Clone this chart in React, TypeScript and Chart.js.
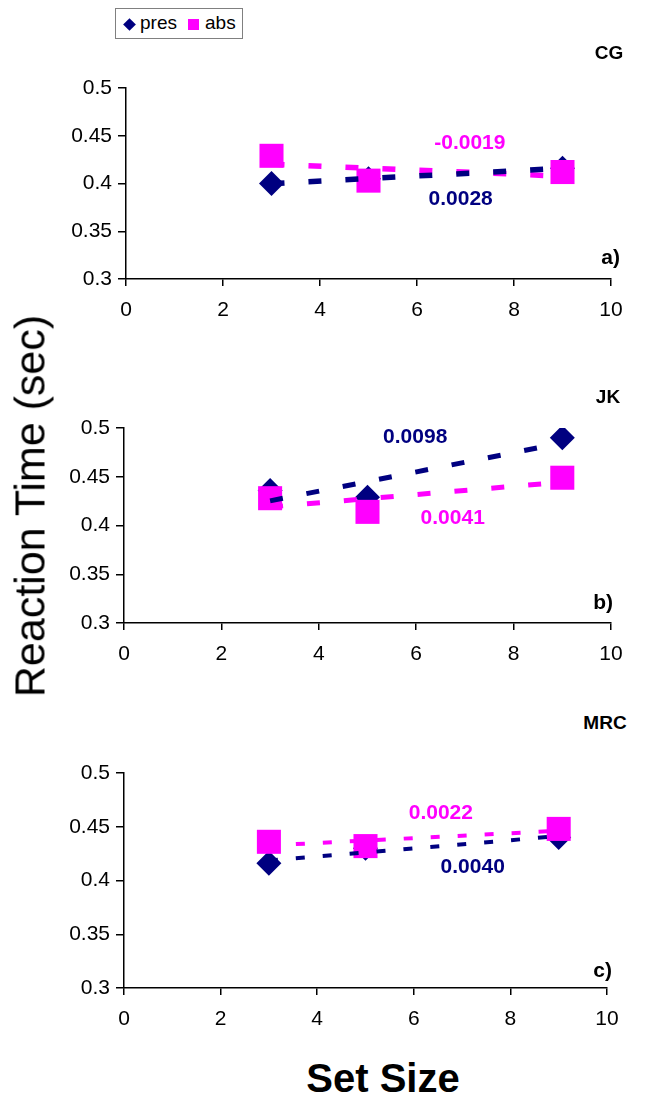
import React, { useEffect, useRef } from 'react';
import { Chart, registerables } from 'chart.js';

Chart.register(...registerables);

// ---------- data ----------
const setSizes = [3, 5, 9];
const xTickValues = [0, 2, 4, 6, 8, 10];
const yTickValues = [0.3, 0.35, 0.4, 0.45, 0.5];
const seriesNames = ['pres', 'abs'];

const cgPres = [0.4, 0.405, 0.416];
const cgAbs = [0.429, 0.403, 0.412];
const jkPres = [0.436, 0.429, 0.49];
const jkAbs = [0.428, 0.414, 0.449];
const mrcPres = [0.416, 0.43, 0.44];
const mrcAbs = [0.436, 0.432, 0.448];

const panelNames = ['CG', 'JK', 'MRC'];
const panelLetters = ['a)', 'b)', 'c)'];
const presSlopeLabels = ['0.0028', '0.0098', '0.0040'];
const absSlopeLabels = ['-0.0019', '0.0041', '0.0022'];

const NAVY = '#000080';
const MAGENTA = '#FF00FF';
const FONT = '"Liberation Sans", Arial, Helvetica, sans-serif';

function fitLine(xs: number[], ys: number[]) {
  const n = xs.length;
  const mx = xs.reduce((a, b) => a + b, 0) / n;
  const my = ys.reduce((a, b) => a + b, 0) / n;
  let sxy = 0;
  let sxx = 0;
  for (let i = 0; i < n; i++) {
    sxy += (xs[i] - mx) * (ys[i] - my);
    sxx += (xs[i] - mx) * (xs[i] - mx);
  }
  const b = sxy / sxx;
  const a = my - b * mx;
  const x0 = Math.min(...xs);
  const x1 = Math.max(...xs);
  return [
    { x: x0, y: a + b * x0 },
    { x: x1, y: a + b * x1 },
  ];
}

const slopeLabelPlugin = {
  id: 'slopeLabels',
  afterDatasetsDraw(chart: any, _args: any, opts: any) {
    const { ctx } = chart;
    const xs = chart.scales.x;
    const ys = chart.scales.y;
    (opts.items || []).forEach((it: any) => {
      ctx.save();
      ctx.font = `bold ${opts.size || 20}px ${FONT}`;
      ctx.fillStyle = it.color;
      ctx.textAlign = 'center';
      ctx.textBaseline = 'middle';
      ctx.fillText(it.text, xs.getPixelForValue(it.x), ys.getPixelForValue(it.y));
      ctx.restore();
    });
  },
};

type PanelProps = {
  idx: number;
  pres: number[];
  abs: number[];
  top: number;
  height: number;
  area: { left: number; right: number; top: number; bottom: number };
  lineWidth: number;
  dash: number[];
  presLabelPos: { x: number; y: number };
  absLabelPos: { x: number; y: number };
};

function Panel(p: PanelProps) {
  const ref = useRef<HTMLCanvasElement>(null);
  useEffect(() => {
    if (!ref.current) return;
    const tickFont = { family: FONT, size: 21 };
    const chart = new Chart(ref.current, {
      type: 'scatter',
      data: {
        datasets: [
          {
            type: 'line',
            label: 'pres trend',
            data: fitLine(setSizes, p.pres),
            borderColor: NAVY,
            borderWidth: p.lineWidth,
            borderDash: p.dash,
            pointRadius: 0,
            fill: false,
            order: 0,
          } as any,
          {
            type: 'line',
            label: 'abs trend',
            data: fitLine(setSizes, p.abs),
            borderColor: MAGENTA,
            borderWidth: p.lineWidth,
            borderDash: p.dash,
            pointRadius: 0,
            fill: false,
            order: 0,
          } as any,
          {
            label: seriesNames[1],
            data: setSizes.map((x, i) => ({ x, y: p.abs[i] })),
            pointStyle: 'rect',
            pointRadius: 17,
            backgroundColor: MAGENTA,
            borderColor: MAGENTA,
            borderWidth: 0,
            order: 1,
          },
          {
            label: seriesNames[0],
            data: setSizes.map((x, i) => ({ x, y: p.pres[i] })),
            pointStyle: 'rectRot',
            pointRadius: 12.5,
            backgroundColor: NAVY,
            borderColor: NAVY,
            borderWidth: 0,
            order: 2,
          },
        ],
      },
      options: {
        animation: false,
        responsive: false,
        devicePixelRatio: 1,
        layout: {
          padding: { left: 0, top: p.area.top, right: 668 - p.area.right, bottom: 0 },
        },
        plugins: {
          legend: { display: false },
          tooltip: { enabled: false },
          slopeLabels: {
            size: 21,
            items: [
              { text: presSlopeLabels[p.idx], color: NAVY, x: p.presLabelPos.x, y: p.presLabelPos.y },
              { text: absSlopeLabels[p.idx], color: MAGENTA, x: p.absLabelPos.x, y: p.absLabelPos.y },
            ],
          },
        } as any,
        scales: {
          x: {
            type: 'linear',
            min: 0,
            max: 10,
            afterBuildTicks: (s: any) => {
              s.ticks = xTickValues.map((v) => ({ value: v }));
            },
            ticks: {
              font: tickFont,
              color: '#000',
              padding: 12,
              maxRotation: 0,
              autoSkip: false,
              callback: (v: any) => String(v),
            },
            grid: { drawOnChartArea: false, drawTicks: true, tickLength: 7, color: '#000', lineWidth: 1.5 },
            border: { display: true, color: '#000', width: 1.5 },
            afterFit: (s: any) => {
              s.height = p.height - p.area.bottom;
            },
          },
          y: {
            type: 'linear',
            min: 0.3,
            max: 0.5,
            afterBuildTicks: (s: any) => {
              s.ticks = yTickValues.map((v) => ({ value: v }));
            },
            ticks: {
              font: tickFont,
              color: '#000',
              padding: 6,
              autoSkip: false,
              callback: (v: any) => String(v),
            },
            grid: { drawOnChartArea: false, drawTicks: true, tickLength: 8, color: '#000', lineWidth: 1.5 },
            border: { display: true, color: '#000', width: 1.5 },
            afterFit: (s: any) => {
              s.width = p.area.left;
            },
          },
        },
      },
      plugins: [slopeLabelPlugin as any],
    });
    return () => chart.destroy();
  }, []);
  return (
    <canvas
      ref={ref}
      width={668}
      height={p.height}
      style={{ position: 'absolute', left: 0, top: p.top, width: 668, height: p.height, display: 'block' }}
    />
  );
}

const txt = (
  text: string,
  cx: number,
  cy: number,
  size: number,
  bold: boolean,
  extra: any = {}
) => (
  <div
    style={{
      position: 'absolute',
      left: cx,
      top: cy,
      transform: 'translate(-50%, -50%)',
      fontFamily: FONT,
      fontSize: size,
      fontWeight: bold ? 'bold' : 'normal',
      lineHeight: 1,
      whiteSpace: 'nowrap',
      color: '#000',
      ...extra,
    }}
  >
    {text}
  </div>
);

const rtxt = (text: string, right: number, cy: number, size: number) => (
  <div
    style={{
      position: 'absolute',
      right: 668 - right,
      top: cy,
      transform: 'translateY(-50%)',
      fontFamily: FONT,
      fontSize: size,
      fontWeight: 'bold',
      lineHeight: 1,
      whiteSpace: 'nowrap',
      color: '#000',
    }}
  >
    {text}
  </div>
);

export default function App() {
  return (
    <div style={{ position: 'absolute', left: 0, top: 0, width: 668, height: 1102, background: '#fff', overflow: 'hidden' }}>
      {/* legend */}
      <div
        style={{
          position: 'absolute',
          left: 115,
          top: 8,
          width: 128,
          height: 31,
          boxSizing: 'border-box',
          border: '1px solid #808080',
          background: '#fff',
        }}
      >
        <div style={{ position: 'absolute', left: 9, top: 11, width: 9, height: 9, background: NAVY, transform: 'rotate(45deg)' }} />
        <div style={{ position: 'absolute', left: 24, top: 3, fontFamily: FONT, fontSize: 19, lineHeight: '22px' }}>{seriesNames[0]}</div>
        <div style={{ position: 'absolute', left: 72, top: 10, width: 11, height: 11, background: MAGENTA }} />
        <div style={{ position: 'absolute', left: 89, top: 3, fontFamily: FONT, fontSize: 19, lineHeight: '22px' }}>{seriesNames[1]}</div>
      </div>

      <Panel
        idx={0}
        pres={cgPres}
        abs={cgAbs}
        top={60}
        height={270}
        area={{ left: 126, right: 611, top: 28, bottom: 219 }}
        lineWidth={5.5}
        dash={[13, 24]}
        presLabelPos={{ x: 6.9, y: 0.384 }}
        absLabelPos={{ x: 7.09, y: 0.442 }}
      />
      <Panel
        idx={1}
        pres={jkPres}
        abs={jkAbs}
        top={400}
        height={270}
        area={{ left: 124, right: 611, top: 28, bottom: 223 }}
        lineWidth={5}
        dash={[13, 24]}
        presLabelPos={{ x: 5.98, y: 0.4908 }}
        absLabelPos={{ x: 6.75, y: 0.4077 }}
      />
      <Panel
        idx={2}
        pres={mrcPres}
        abs={mrcAbs}
        top={745}
        height={300}
        area={{ left: 124, right: 607, top: 28, bottom: 243 }}
        lineWidth={4}
        dash={[9, 18]}
        presLabelPos={{ x: 7.22, y: 0.4126 }}
        absLabelPos={{ x: 6.56, y: 0.4628 }}
      />

      {txt(panelNames[0], 609, 52, 19, true)}
      {txt(panelNames[1], 608, 396, 19, true)}
      {txt(panelNames[2], 605, 722, 19, true)}

      {rtxt(panelLetters[0], 620, 256, 21)}
      {rtxt(panelLetters[1], 613, 601, 21)}
      {rtxt(panelLetters[2], 612, 969, 21)}

      {txt('Reaction Time (sec)', 30, 506, 43, false, { transform: 'translate(-50%, -50%) rotate(-90deg)' })}
      {txt('Set Size', 383, 1078, 40, true)}
    </div>
  );
}
